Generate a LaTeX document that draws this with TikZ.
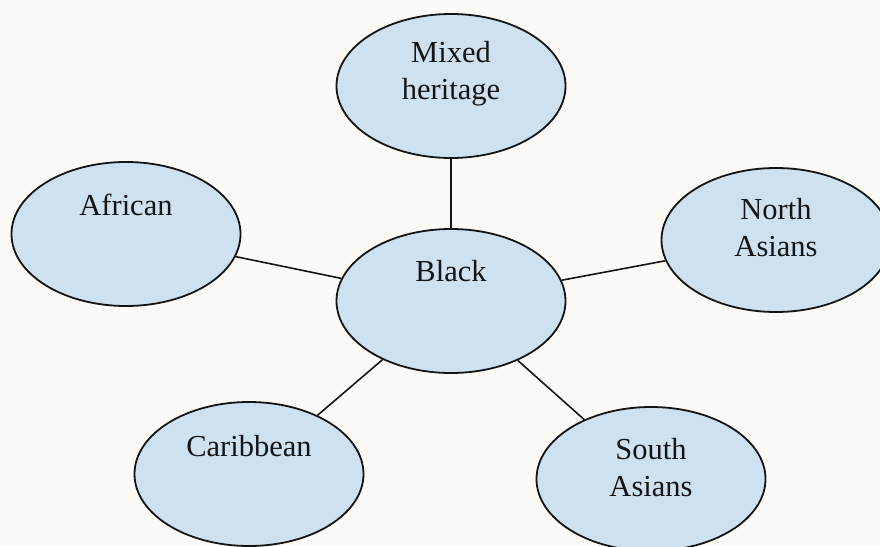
\documentclass[tikz,border=0pt]{standalone}
\usepackage{fontspec}
\setmainfont{Liberation Serif}
\usetikzlibrary{shapes.geometric}
\definecolor{paper}{RGB}{252,250,246}
\definecolor{blobfill}{RGB}{206,225,241}
\definecolor{ink}{RGB}{20,20,20}
\tikzset{
  blob/.style={ellipse, draw=ink, fill=blobfill, line width=1.8pt,
    minimum width=229pt, minimum height=144pt, inner sep=0pt},
  tag/.style={text=ink, font=\fontsize{30.5}{37}\selectfont, align=center, inner sep=0pt},
  link/.style={draw=ink, line width=1.6pt}
}
\begin{document}
\begin{tikzpicture}[x=1pt,y=-1pt]
  % page area
  \fill[paper] (0,0) rectangle (880,546);
  \useasboundingbox (0,0) rectangle (880,546);

  % ellipses
  \node[blob] (black)  at (451,301) {};
  \node[blob] (mixed)  at (451,86)  {};
  \node[blob] (africa) at (126,234) {};
  \node[blob] (north)  at (776,240) {};
  \node[blob] (carib)  at (249,474) {};
  \node[blob] (south)  at (651,479) {};

  % spokes from the centre ellipse
  \draw[link] (black) -- (mixed);
  \draw[link] (black) -- (africa);
  \draw[link] (black) -- (north);
  \draw[link] (black) -- (carib);
  \draw[link] (black) -- (south);

  % labels
  \node[tag] (black-t)  at ([yshift=30pt]black.center)  {Black};
  \node[tag] (mixed-t)  at ([yshift=12pt]mixed.center)  {Mixed\\heritage};
  \node[tag] (africa-t) at ([yshift=29pt]africa.center) {African};
  \node[tag] (north-t)  at ([yshift=12pt]north.center)  {North\\Asians};
  \node[tag] (carib-t)  at ([yshift=28pt]carib.center)  {Caribbean};
  \node[tag] (south-t)  at ([yshift=11pt]south.center)  {South\\Asians};
\end{tikzpicture}
\end{document}
